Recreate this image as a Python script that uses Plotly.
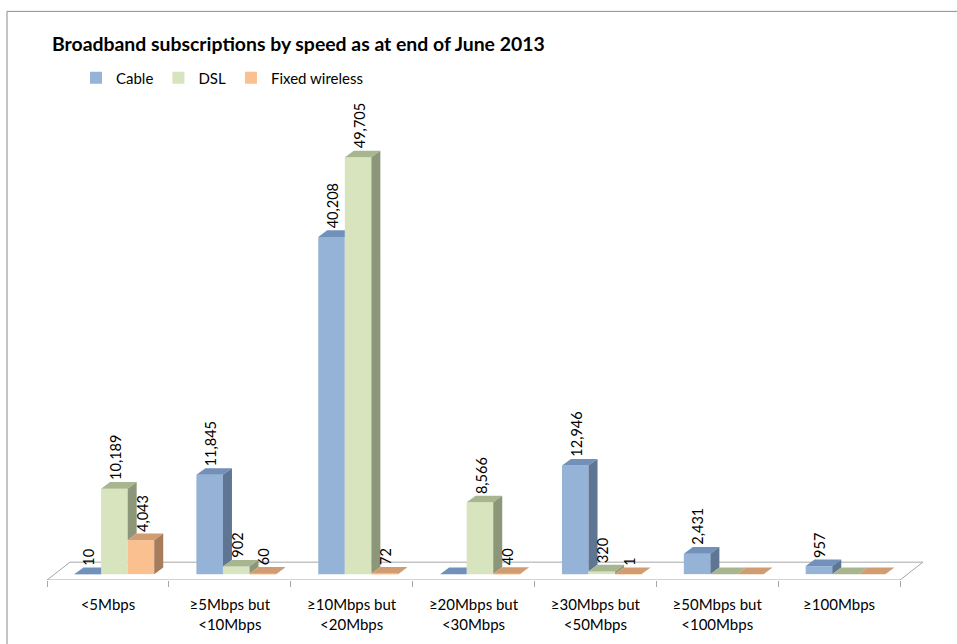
import plotly.graph_objects as go

# ---- data -------------------------------------------------------------
categories = [
    "&lt;5Mbps",
    "≥5Mbps but<br>&lt;10Mbps",
    "≥10Mbps but<br>&lt;20Mbps",
    "≥20Mbps but<br>&lt;30Mbps",
    "≥30Mbps but<br>&lt;50Mbps",
    "≥50Mbps but<br>&lt;100Mbps",
    "≥100Mbps",
]
cable = [10, 11845, 40208, None, 12946, 2431, 957]
dsl = [10189, 902, 49705, 8566, 320, None, None]
fixed_wireless = [4043, 60, 72, 40, 1, None, None]

series_names = ["Cable", "DSL", "Fixed wireless"]
series_values = [cable, dsl, fixed_wireless]

# ---- styling ----------------------------------------------------------
front_colors = ["#95B3D7", "#D7E4BD", "#FAC090"]
top_colors = ["#7190BA", "#A8B690", "#D19C70"]
side_colors = ["#5E7694", "#8C977A", "#A77C5B"]
FONT = "Lato"
GRID_GRAY = "#A6A6A6"

W, H = 957, 644
M_L, M_R, M_T, M_B = 10, 20, 100, 64
AXIS_LEFT_PX, AXIS_RIGHT_PX = 47, 900
n_cat = len(categories)
px_per_cat = (AXIS_RIGHT_PX - AXIS_LEFT_PX) / n_cat
x_range = [-(AXIS_LEFT_PX - M_L) / px_per_cat,
           n_cat + (W - M_R - AXIS_RIGHT_PX) / px_per_cat]
Y_RANGE = [-700, 56000]
plot_h = H - M_T - M_B
px_per_unit = plot_h / (Y_RANGE[1] - Y_RANGE[0])

# pseudo-3D projection: depth offsets of the columns and of the floor
DX = 9 / px_per_cat
DY = 6.7 / px_per_unit
FLOOR_DX = 23 / px_per_cat
FLOOR_DY = 18 / px_per_unit
BAR_W = 0.218
BAR_SHIFT = 0.053

fig = go.Figure()

centers = [i + 0.5 for i in range(n_cat)]

# front faces of the columns
for k, (name, vals) in enumerate(zip(series_names, series_values)):
    fig.add_trace(go.Bar(
        x=centers, y=vals, name=name,
        width=BAR_W, offset=(k - 1.5) * BAR_W + BAR_SHIFT,
        marker=dict(color=front_colors[k], line=dict(width=0)),
        hoverinfo="skip",
    ))


def bar_left(i, k):
    return centers[i] + (k - 1.5) * BAR_W + BAR_SHIFT


# top and side faces, hidden parts removed where the neighbouring column
# to the right stands in front of them
for k, vals in enumerate(series_values):
    top_x, top_y, side_x, side_y = [], [], [], []
    for i in range(n_cat):
        v = vals[i] or 0
        nxt = (series_values[k + 1][i] or 0) if k + 1 < len(series_values) else 0
        xl = bar_left(i, k)
        xr = xl + BAR_W
        if k + 1 < len(series_values) and nxt > v:
            px_ = [xl, xr, xr, xl + DX, xl]
            py_ = [v, v, v + DY, v + DY, v]
        else:
            px_ = [xl, xr, xr + DX, xl + DX, xl]
            py_ = [v, v, v + DY, v + DY, v]
        top_x += px_ + [None]
        top_y += py_ + [None]
        base = nxt if k + 1 < len(series_values) else 0
        if v > base:
            side_x += [xr, xr, xr + DX, xr + DX, xr, None]
            side_y += [base, v, v + DY, base + DY, base, None]
    fig.add_trace(go.Scatter(
        x=top_x, y=top_y, mode="lines", fill="toself",
        fillcolor=top_colors[k], line=dict(width=0),
        showlegend=False, hoverinfo="skip",
    ))
    if side_x:
        fig.add_trace(go.Scatter(
            x=side_x, y=side_y, mode="lines", fill="toself",
            fillcolor=side_colors[k], line=dict(width=0),
            showlegend=False, hoverinfo="skip",
        ))

# value labels above each column
annotations = []
for k, vals in enumerate(series_values):
    for i, v in enumerate(vals):
        if v is None:
            continue
        annotations.append(dict(
            x=bar_left(i, k) + BAR_W / 2 + 0.008, y=v + DY,
            xref="x", yref="y", text=f"{v:,}", textangle=-90,
            xanchor="center", yanchor="bottom", showarrow=False,
            font=dict(family=FONT, size=14.5, color="#000000"),
        ))

# floor of the 3D plot
y0 = Y_RANGE[0]
floor_path = (f"M 0,{y0} L {n_cat},{y0} L {n_cat + FLOOR_DX},{y0 + FLOOR_DY} "
              f"L {FLOOR_DX},{y0 + FLOOR_DY} Z")
shapes = [
    dict(type="path", path=floor_path, xref="x", yref="y",
         fillcolor="white", line=dict(color=GRID_GRAY, width=1), layer="below"),
    # outer chart frame
    dict(type="rect", xref="paper", yref="paper",
         x0=(7 - M_L) / (W - M_L - M_R), x1=(W + 5 - M_L) / (W - M_L - M_R),
         y0=(H - M_B - (H + 5)) / plot_h, y1=(H - M_B - 6) / plot_h,
         line=dict(color="#8C8C8C", width=1), fillcolor="rgba(0,0,0,0)",
         layer="below"),
]

fig.update_layout(
    width=W, height=H,
    margin=dict(l=M_L, r=M_R, t=M_T, b=M_B),
    paper_bgcolor="white", plot_bgcolor="white",
    barmode="overlay",
    title=dict(
        text="<b>Broadband subscriptions by speed as at end of June 2013</b>",
        x=52 / W, xanchor="left", y=1 - 44 / H, yanchor="middle",
        xref="container", yref="container",
        font=dict(family=FONT, size=19.4, color="#000000"),
    ),
    legend=dict(
        orientation="h", x=76 / W, y=1 - 78 / H, xanchor="left", yanchor="middle",
        xref="container", yref="container",
        font=dict(family=FONT, size=15, color="#000000"),
        bgcolor="rgba(0,0,0,0)",
    ),
    xaxis=dict(
        range=x_range, tickvals=centers, ticktext=categories,
        ticks="", showgrid=False, zeroline=False, showline=False,
        tickfont=dict(family=FONT, size=15, color="#000000"),
        ticklabelstandoff=14,
        minor=dict(tickvals=list(range(n_cat + 1)), ticks="outside", ticklen=6,
                   tickcolor=GRID_GRAY, tickwidth=1, showgrid=False),
        fixedrange=True,
    ),
    yaxis=dict(range=Y_RANGE, visible=False, fixedrange=True),
    shapes=shapes,
    annotations=annotations,
    showlegend=True,
)

fig.write_html("out.html")
